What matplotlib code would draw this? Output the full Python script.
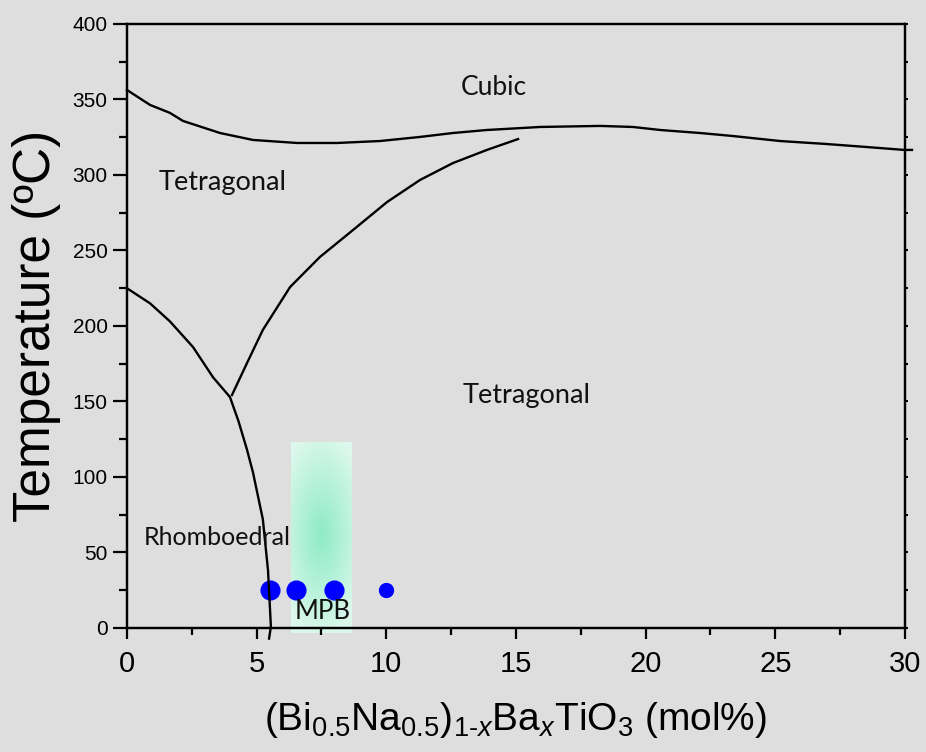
import numpy as np
from matplotlib import pyplot as plt
from matplotlib.colors import to_rgb

# phase boundary: cubic / tetragonal
cubic_x = [0, 0.89, 1.66, 2.16, 3.59, 4.86, 6.56, 8.10, 9.76, 11.30, 12.57, 13.88,
           15.93, 18.24, 19.51, 20.56, 22.10, 23.37, 25.18, 26.99, 28.54, 29.97, 30.27]
cubic_t = [356.3, 346.4, 341.1, 335.8, 327.8, 323.2, 321.2, 321.2, 322.5, 325.2, 327.8, 329.8,
           331.8, 332.5, 331.8, 329.8, 327.8, 325.8, 322.5, 320.5, 318.5, 316.6, 316.6]

# rhombohedral / tetragonal boundary
rhombo_x = [0, 0.89, 1.66, 2.55, 3.32, 3.97, 4.30, 4.63, 4.86, 5.24, 5.44, 5.55, 5.48]
rhombo_t = [225, 215, 203, 186, 166, 153, 137, 118, 103, 72, 38, 1, -7]

# tetragonal / tetragonal boundary
tet_x = [4.05, 4.63, 5.24, 6.29, 7.44, 8.72, 10.03, 11.30, 12.57, 13.88, 15.08]
tet_t = [154.3, 175.5, 197.4, 225.8, 245.7, 263.6, 282.1, 296.7, 307.9, 316.6, 323.8]

# measured compositions (room temperature)
big_x = [5.5, 6.5, 8.0]
small_x = [10.0]
meas_t = 25

# MPB region
mpb_x = (6.32, 8.64)
mpb_t = (-3.3, 123)

bg = '#dedede'


def main():
    plt.rcParams['font.family'] = 'Liberation Sans'
    plt.rcParams['mathtext.fontset'] = 'custom'
    plt.rcParams['mathtext.rm'] = 'Liberation Sans'
    plt.rcParams['mathtext.it'] = 'Liberation Sans:italic'

    fig = plt.figure(figsize=(9.26, 7.52), dpi=100, facecolor=bg)
    ax = fig.add_axes([0.1371, 0.1649, 0.8402, 0.8032], facecolor=bg)
    ax2 = ax.twinx()

    # radial green shading of the MPB
    nx, ny = 60, 200
    X, Y = np.meshgrid(np.linspace(-1, 1, nx), np.linspace(-1, 1, ny))
    cy = (62 - np.mean(mpb_t)) / ((mpb_t[1] - mpb_t[0]) / 2)
    r = np.clip(np.sqrt((X / 1.5)**2 + ((Y - cy) / 1.1)**2), 0, 1)
    c0 = np.array(to_rgb('#8eebc6'))
    c1 = np.array(to_rgb('#dcf8ec'))
    img = c0[None, None, :] + (c1 - c0)[None, None, :] * r[:, :, None]
    ax.imshow(img, extent=[mpb_x[0], mpb_x[1], mpb_t[0], mpb_t[1]], origin='lower',
              aspect='auto', zorder=1, clip_on=False, interpolation='bilinear')

    ax.plot(big_x, [meas_t] * len(big_x), 'o', color='#0000ff', ms=13.5, zorder=3, clip_on=False)
    ax.plot(small_x, [meas_t] * len(small_x), 'o', color='#0000ff', ms=10, zorder=3, clip_on=False)

    for xs, ts in [(cubic_x, cubic_t), (rhombo_x, rhombo_t), (tet_x, tet_t)]:
        ax.plot(xs, ts, color='black', lw=1.7, zorder=4, clip_on=False,
                solid_joinstyle='round')

    lab = dict(family='Lato', color='#111111', zorder=5, ha='center', va='center')
    ax.text(14.16, 358, 'Cubic', fontsize=19, **lab)
    ax.text(3.7, 295, 'Tetragonal', fontsize=19.5, **lab)
    ax.text(15.4, 154, 'Tetragonal', fontsize=19.5, **lab)
    ax.text(3.47, 60, 'Rhomboedral', fontsize=18, **lab)
    ax.text(7.56, 11, 'MPB', fontsize=18.5, **lab)

    ax.set_xlim(0, 30)
    ax.set_ylim(0, 400)
    ax.set_xticks(np.arange(0, 31, 5))
    ax.set_xticks(np.arange(0, 31, 2.5), minor=True)
    ax.set_yticks(np.arange(0, 401, 50))
    ax.set_yticks(np.arange(0, 401, 25), minor=True)

    for a in (ax, ax2):
        for s in a.spines.values():
            s.set_linewidth(1.6)
    ax.tick_params(axis='x', which='major', direction='out', length=8, width=1.6,
                   pad=8, labelsize=21)
    ax.tick_params(axis='x', which='minor', direction='out', length=5, width=1.6)
    ax.tick_params(axis='y', which='major', direction='out', length=10, width=1.6,
                   pad=4, labelsize=15)
    ax.tick_params(axis='y', which='minor', direction='out', length=6, width=1.6)

    ax2.set_ylim(0, 400)
    ax2.set_yticks(np.arange(0, 401, 25))
    ax2.tick_params(axis='y', direction='out', length=2, width=1.5, labelright=False)

    ax.set_ylabel('Temperature (ºC)', fontsize=37, labelpad=8)
    ax.set_xlabel(r'$\mathregular{(Bi_{0.5}Na_{0.5})_{1\text{-}\mathit{x}}Ba_{\mathit{x}}TiO_{3}\ (mol\%)}$',
                  fontsize=28, labelpad=16)

    plt.savefig('out.png', dpi=100, facecolor=bg)


if __name__ == '__main__':
    main()
